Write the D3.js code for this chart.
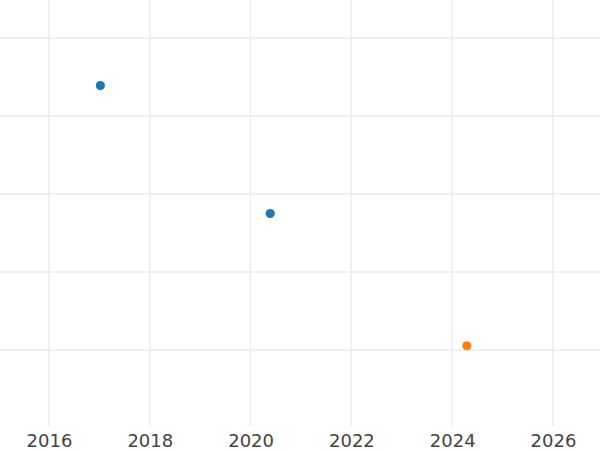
<!DOCTYPE html>
<html><head><meta charset="utf-8">
<script src="https://cdn.jsdelivr.net/npm/d3@7"></script>
<style>html,body{margin:0;padding:0;background:#fff;}svg{display:block;}</style>
</head><body>
<svg id="chart" width="600" height="450"></svg>
<script>
// Data
const years = [2017.02, 2020.39, 2024.29];
const values = [4.39, 2.75, 1.055];
const groups = ["A", "A", "B"];
const xTicks = [2016, 2018, 2020, 2022, 2024, 2026];
const yTicks = [1, 2, 3, 4, 5];
const groupColors = {A: "#1f77b4", B: "#ff7f0e"};

const W = 600, H = 450;
const plotBottom = 426;
const svg = d3.select("#chart");
const x = d3.scaleLinear().domain([2015.028, 2026.933]).range([0, W]);
const y = d3.scaleLinear().domain([0.026, 5.487]).range([plotBottom, 0]);

// grid
const grid = svg.append("g");
grid.selectAll("line.h").data(yTicks).join("line")
  .attr("x1", 0).attr("x2", W)
  .attr("y1", d => y(d)).attr("y2", d => y(d))
  .attr("stroke", "#ebebeb").attr("stroke-width", 1.4);
grid.selectAll("line.v").data(xTicks).join("line")
  .attr("x1", d => x(d)).attr("x2", d => x(d))
  .attr("y1", 0).attr("y2", plotBottom)
  .attr("stroke", "#ebebeb").attr("stroke-width", 1.4);

// x axis labels
const xAxis = d3.axisBottom(x).tickValues(xTicks).tickFormat(d3.format("d")).tickSize(0).tickPadding(8);
const ax = svg.append("g").attr("transform", `translate(0,${plotBottom})`).call(xAxis);
ax.select(".domain").remove();
ax.selectAll("text").attr("font-family", "DejaVu Sans, sans-serif").attr("font-size", 18).attr("fill", "#444");

// points
const data = years.map((d, i) => ({x: d, y: values[i], g: groups[i]}));
svg.append("g").selectAll("circle").data(data).join("circle")
  .attr("cx", d => x(d.x)).attr("cy", d => y(d.y)).attr("r", 4.6)
  .attr("fill", d => groupColors[d.g]);
</script>
</body></html>
